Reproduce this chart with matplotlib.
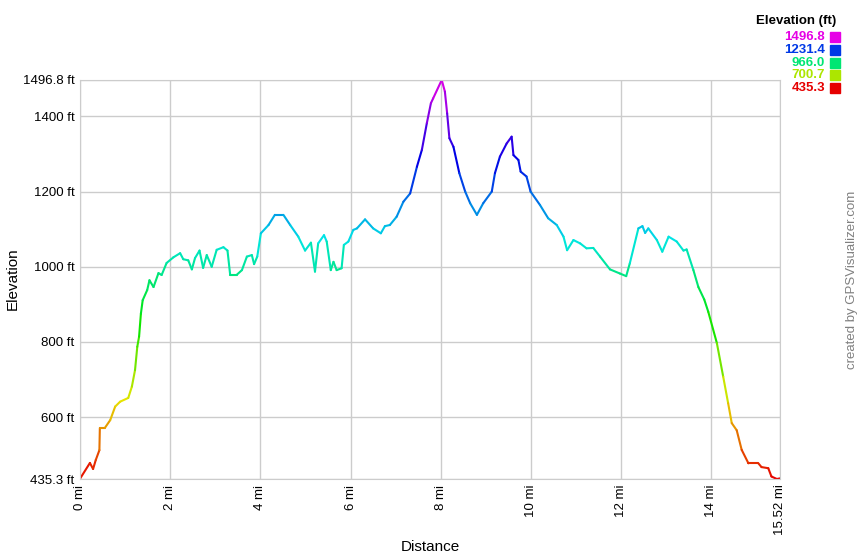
import numpy as np
import matplotlib
matplotlib.use("Agg")
import matplotlib.pyplot as plt
from matplotlib.collections import LineCollection
from matplotlib.colors import hsv_to_rgb

plt.rcParams["font.family"] = ["Liberation Sans", "DejaVu Sans"]

# profile: distance (mi) and elevation (ft)
dist_mi = [0.00, 0.22, 0.29, 0.35, 0.43, 0.44, 0.55, 0.67, 0.78, 0.89, 1.07, 1.15,
           1.22, 1.27, 1.31, 1.35, 1.39, 1.49, 1.54, 1.63, 1.74, 1.81, 1.92, 2.07,
           2.22, 2.29, 2.40, 2.48, 2.55, 2.65, 2.73, 2.81, 2.92, 3.03, 3.18, 3.27,
           3.33, 3.47, 3.59, 3.70, 3.81, 3.86, 3.93, 4.01, 4.18, 4.32, 4.51, 4.66,
           4.84, 4.99, 5.12, 5.21, 5.28, 5.41, 5.47, 5.56, 5.62, 5.69, 5.80, 5.85,
           5.95, 6.06, 6.14, 6.32, 6.50, 6.67, 6.76, 6.87, 7.02, 7.17, 7.32, 7.47,
           7.58, 7.69, 7.78, 7.83, 8.02, 8.09, 8.14, 8.19, 8.28, 8.41, 8.54, 8.65,
           8.80, 8.94, 9.13, 9.20, 9.31, 9.46, 9.57, 9.61, 9.72, 9.77, 9.90, 9.99,
           10.20, 10.38, 10.57, 10.72, 10.80, 10.94, 11.09, 11.23, 11.38, 11.53,
           11.75, 11.97, 12.11, 12.19, 12.38, 12.47, 12.53, 12.60, 12.79, 12.91,
           13.05, 13.23, 13.38, 13.45, 13.60, 13.71, 13.84, 13.93, 14.12, 14.26,
           14.37, 14.45, 14.56, 14.67, 14.82, 15.04, 15.11, 15.26, 15.33, 15.45, 15.52]
elev_ft = [436, 478, 462, 486, 512, 571, 571, 592, 628, 641, 651, 681,
           725, 787, 814, 875, 911, 938, 964, 946, 983, 978, 1010, 1025,
           1036, 1020, 1017, 993, 1023, 1043, 997, 1031, 1000, 1045, 1052, 1043,
           978, 978, 991, 1027, 1031, 1007, 1027, 1089, 1111, 1138, 1138, 1111,
           1080, 1043, 1064, 987, 1062, 1084, 1067, 991, 1013, 991, 996, 1058,
           1067, 1098, 1102, 1126, 1102, 1089, 1108, 1111, 1133, 1173, 1195, 1266,
           1311, 1382, 1435, 1448, 1496.8, 1466, 1408, 1342, 1319, 1249, 1200, 1169,
           1138, 1169, 1200, 1249, 1293, 1328, 1346, 1297, 1284, 1253, 1240, 1200,
           1164, 1129, 1111, 1080, 1044, 1071, 1062, 1049, 1050, 1027,
           993, 982, 975, 1009, 1102, 1108, 1090, 1102, 1071, 1040,
           1080, 1067, 1043, 1046, 991, 946, 913, 880, 797, 708,
           637, 584, 565, 513, 477, 477, 467, 464, 442, 435.3, 437]

elev_min, elev_max = 435.3, 1496.8
total_mi = 15.52
legend_vals = [1496.8, 1231.4, 966.0, 700.7, 435.3]
y_ticks = [435.3, 600, 800, 1000, 1200, 1400, 1496.8]
y_labels = ["435.3 ft", "600 ft", "800 ft", "1000 ft", "1200 ft", "1400 ft", "1496.8 ft"]
x_ticks = [0, 2, 4, 6, 8, 10, 12, 14, 15.52]
x_labels = ["0 mi", "2 mi", "4 mi", "6 mi", "8 mi", "10 mi", "12 mi", "14 mi", "15.52 mi"]


def elev_color(v):
    # hue runs red -> magenta over the elevation range
    frac = (np.asarray(v) - elev_min) / (elev_max - elev_min)
    hsv = np.stack([frac * 300 / 360, np.ones_like(frac), np.full_like(frac, 0.9)], axis=-1)
    return hsv_to_rgb(hsv)


W, H = 860, 560
fig = plt.figure(figsize=(W / 100, H / 100), dpi=100)
ax = fig.add_axes([80 / W, 1 - 479 / H, 700 / W, 399 / H])

x = np.array(dist_mi)
y = np.array(elev_ft)
segs = np.stack([np.column_stack([x[:-1], y[:-1]]), np.column_stack([x[1:], y[1:]])], axis=1)
lc = LineCollection(segs, colors=elev_color((y[:-1] + y[1:]) / 2), linewidths=1.5,
                    capstyle="round", joinstyle="round")
ax.add_collection(lc)

ax.set_xlim(0, total_mi)
ax.set_ylim(elev_min, elev_max)
ax.set_xticks(x_ticks)
ax.set_xticklabels(x_labels, rotation=90, fontsize=9.5)
ax.set_yticks(y_ticks)
ax.set_yticklabels(y_labels, fontsize=9.5)
ax.tick_params(length=0, pad=4)
ax.grid(True, color="#cccccc", linewidth=1)
for s in ax.spines.values():
    s.set_color("#cccccc")
ax.set_axisbelow(True)

# axis titles placed in figure pixels so they stay inside the canvas
fig.text(430 / W, 1 - 547 / H, "Distance", fontsize=11, ha="center", va="center")
fig.text(13 / W, 1 - 279 / H, "Elevation", fontsize=11, rotation=90, ha="center", va="center")

# legend built as text in figure pixels
fig.text(836 / W, 1 - 21 / H, "Elevation (ft)", fontsize=9.5, fontweight="bold",
         ha="right", va="center")
for i, v in enumerate(legend_vals):
    yy = 1 - (37 + i * 12.8) / H
    c = elev_color([v])[0]
    fig.text(825 / W, yy, f"{v:.1f}", fontsize=9.5, fontweight="bold", color=c,
             ha="right", va="center")
    fig.patches.append(plt.Rectangle((830 / W, yy - 5 / H), 10 / W, 10 / H,
                                     transform=fig.transFigure, color=c))

fig.text(852 / W, 1 - 280 / H, "created by GPSVisualizer.com", rotation=90,
         fontsize=9.5, color="#808080", ha="center", va="center")

fig.savefig("out.png", dpi=100)
